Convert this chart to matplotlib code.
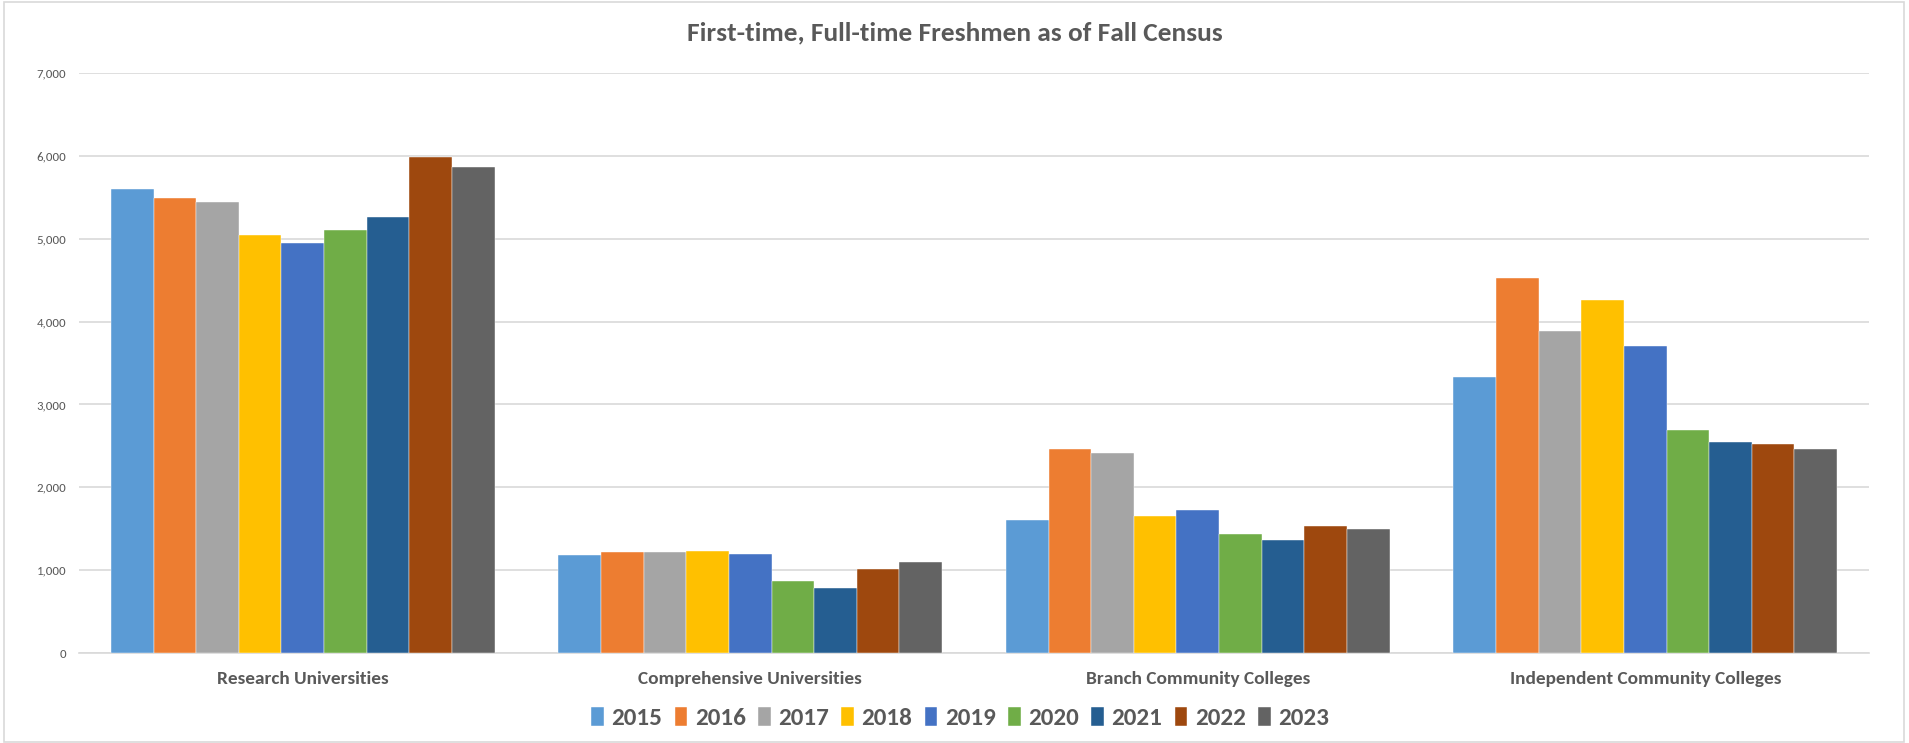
"""Bar chart of first-time, full-time freshmen by sector and fall census year."""

import matplotlib.pyplot as plt
import numpy as np
from matplotlib.patches import Rectangle

sectors = ["Research Universities", "Comprehensive Universities",
           "Branch Community Colleges", "Independent Community Colleges"]
years = ["2015", "2016", "2017", "2018", "2019", "2020", "2021", "2022", "2023"]

# one list per year, values in sector order
y2015 = [5595, 1185, 1610, 3330]
y2016 = [5490, 1225, 2460, 4520]
y2017 = [5440, 1225, 2410, 3890]
y2018 = [5045, 1230, 1655, 4260]
y2019 = [4950, 1200, 1730, 3710]
y2020 = [5105, 875, 1440, 2690]
y2021 = [5260, 780, 1365, 2550]
y2022 = [5990, 1010, 1535, 2520]
y2023 = [5870, 1100, 1500, 2465]
series = [y2015, y2016, y2017, y2018, y2019, y2020, y2021, y2022, y2023]

colors = ["#5B9BD5", "#ED7D31", "#A5A5A5", "#FFC000", "#4472C4",
          "#70AD47", "#255E91", "#9E480E", "#636363"]
txt = "#595959"
grid = "#D9D9D9"
fonts = ["Carlito", "Liberation Sans Narrow", "DejaVu Sans"]
plt.rcParams["font.family"] = fonts

fig = plt.figure(figsize=(19.09, 7.43), dpi=100)
ax = fig.add_axes([79 / 1909, 1 - 653 / 743, (1869 - 79) / 1909, (653 - 73) / 743])

x = np.arange(len(sectors))
w = 1 / 10.5
for i, vals in enumerate(series):
    ax.bar(x + (i - 4) * w, vals, w, color=colors[i], label=years[i],
           edgecolor="white", linewidth=0.3, zorder=3)

ax.set_xlim(-0.5, len(sectors) - 0.5)
ax.set_ylim(0, 7000)
ax.set_yticks(range(0, 7001, 1000))
ax.set_yticklabels([f"{v:,}" for v in range(0, 7001, 1000)], fontsize=9.3, color=txt)
ax.set_xticks(x)
ax.set_xticklabels(sectors, fontsize=13.9, fontweight="bold", color=txt)
ax.tick_params(axis="both", length=0)
ax.tick_params(axis="x", pad=13)
ax.tick_params(axis="y", pad=9)
ax.grid(axis="y", color=grid, linewidth=1.2, zorder=0)
for s in ["left", "right", "top"]:
    ax.spines[s].set_visible(False)
ax.spines["bottom"].set_color(grid)
ax.spines["bottom"].set_linewidth(1.2)

fig.text(0.5, 1 - 33 / 743, "First-time, Full-time Freshmen as of Fall Census",
         ha="center", va="center", fontsize=19.7, fontweight="bold", color=txt)

fig.legend(loc="center", bbox_to_anchor=(0.503, 1 - 718 / 743), ncol=9,
           frameon=False, handlelength=0.5, handleheight=0.8, handletextpad=0.3,
           columnspacing=0.5, prop={"size": 18, "weight": "bold"}, labelcolor=txt)

fig.patches.append(Rectangle((4 / 1909, 1 / 743), 1900 / 1909, 740 / 743, fill=False,
                             edgecolor=grid, linewidth=1.2, transform=fig.transFigure))

fig.savefig("out.png", dpi=100)
